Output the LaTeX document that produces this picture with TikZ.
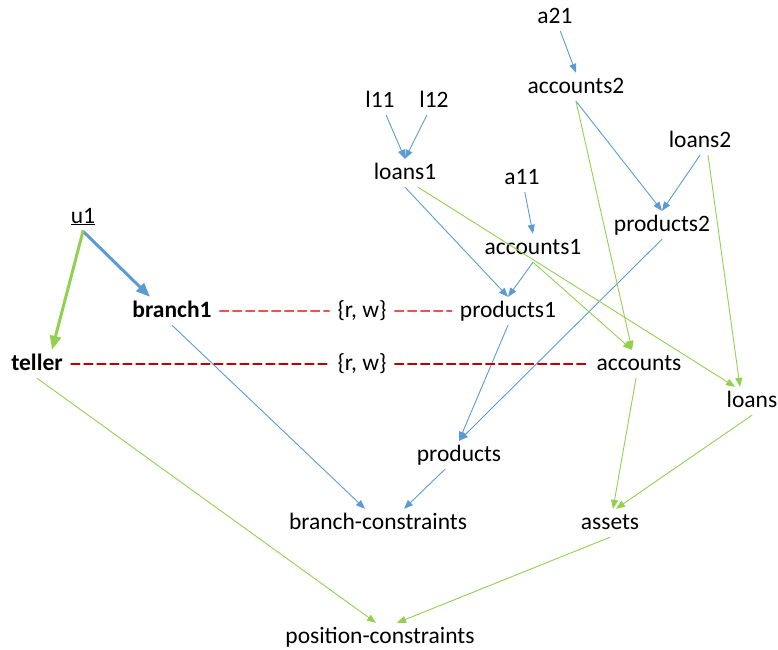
\documentclass[tikz,border=0pt]{standalone}
\usepackage{fontspec}
\setmainfont{Carlito}
\usepackage{tikz}
\usetikzlibrary{arrows.meta}
\definecolor{linkblue}{RGB}{91,155,213}
\definecolor{linkgreen}{RGB}{146,208,80}
\definecolor{dashlight}{RGB}{232,84,84}
\definecolor{dashdark}{RGB}{192,0,0}

\begin{document}
\begin{tikzpicture}[line cap=round,line join=round,>={Triangle[length=9pt,width=7pt]},x=1pt,y=-1pt,
  every node/.style={font=\fontsize{23.5}{28}\selectfont,inner sep=3pt,text height=17pt,text depth=5pt},
  bl/.style={->,color=linkblue,line width=0.9pt},
  gr/.style={->,color=linkgreen,line width=0.9pt},
  bold arrow/.style={-{Triangle[length=14pt,width=11pt]},line width=3pt},
  rw/.style={dash pattern=on 9pt off 4pt,line width=1.1pt,shorten <=5pt,shorten >=5pt}]
\useasboundingbox (0,0) rectangle (778,649);
% top part
\node (a21) at (555,17) {a21};
\node (accounts2) at (576,87) {accounts2};
\node (l11) at (380,101) {l11};
\node (l12) at (434,101) {l12};
\node (loans1) at (405,173) {loans1};
\node (loans2) at (700,141) {loans2};
\node (a11) at (522,178) {a11};
\node (products2) at (662,225) {products2};
\node (accounts1) at (533,248) {accounts1};
% user
\node (u1) at (83,217) {\underline{u1}};
\node (branch1) at (172,311) {\textbf{branch1}};
\node (teller) at (37,364) {\textbf{teller}};
\node (rw1) at (362,311) {\{r, w\}};
\node (rw2) at (362,364) {\{r, w\}};
\node (products1) at (508,311) {products1};
\node (accounts) at (639,364) {accounts};
\node (loans) at (752,401) {loans};
\node (products) at (459,455) {products};
\node (bc) at (378,523) {branch-constraints};
\node (assets) at (610,523) {assets};
\node (pc) at (380,637) {position-constraints};
% blue edges
\draw [bl] (a21) -- (accounts2.north);
\draw [bl] (l11) -- (loans1.north);
\draw [bl] (l12) -- (loans1.north);
\draw [bl] (a11) -- (accounts1.north);
\draw [bl] (loans1.south) -- (products1.north);
\draw [bl] (accounts1.south) -- (products1.north);
\draw [bl] (accounts2.south) -- (products2.north);
\draw [bl] (loans2.south) -- (products2.north);
\draw [bl] (products1.south) -- (products.north);
\draw [bl] (products2.south) -- (products.north);
\draw [bl] (branch1.south) -- ([xshift=-13pt]bc.north);
\draw [bl] ([xshift=-14pt]products.south) -- ([xshift=26pt]bc.north);
\draw [bold arrow,color=linkblue] (u1.south) -- ([xshift=-22pt]branch1.north);
% green edges
\draw [bold arrow,color=linkgreen] (u1.south) -- ([xshift=15pt]teller.north);
\draw [gr] (accounts2.south) -- ([xshift=-7pt]accounts.north);
\draw [gr] (accounts1.south) -- ([xshift=-7pt]accounts.north);
\draw [gr] ([xshift=13pt]loans1.south) -- ([xshift=-17pt]loans.north);
\draw [gr] ([xshift=8pt]loans2.south) -- ([xshift=-12pt]loans.north);
\draw [gr] ([xshift=-3pt]accounts.south) -- ([xshift=3pt]assets.north);
\draw [gr] (loans.south) -- ([xshift=6pt]assets.north);
\draw [gr] (teller.south) -- ([xshift=-4pt]pc.north);
\draw [gr] (assets.south) -- ([xshift=17pt]pc.north);
% read/write links
\draw [rw,dashlight] (branch1) -- (rw1);
\draw [rw,dashlight] (rw1) -- (products1);
\draw [rw,dashdark] (teller) -- (rw2);
\draw [rw,dashdark] (rw2) -- (accounts);
\end{tikzpicture}
\end{document}
